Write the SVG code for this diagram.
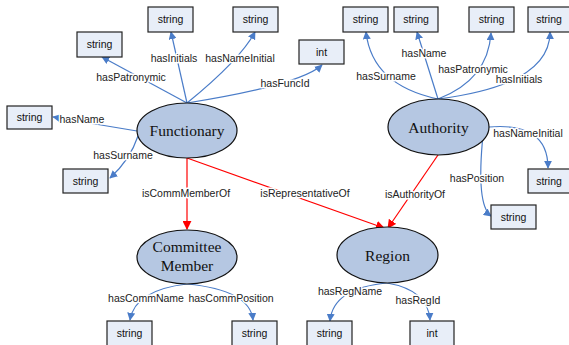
<svg xmlns="http://www.w3.org/2000/svg" width="569" height="345" viewBox="0 0 569 345">
<defs>
<style>
.box{fill:#E8EEF8;stroke:#222;stroke-width:1.2}
.bt{font-family:"Liberation Sans",Arial,sans-serif;font-size:10.5px;fill:#111;text-anchor:middle}
.ell{fill:#B5C7E2;stroke:#111;stroke-width:1.2}
.et{font-family:"Liberation Serif","Times New Roman",serif;font-size:15.5px;fill:#111;text-anchor:middle}
.lb{font-family:"Liberation Sans",Arial,sans-serif;font-size:10.5px;fill:#222;text-anchor:middle;stroke:#fff;stroke-width:3;paint-order:stroke;stroke-linejoin:round}
.b{fill:none;stroke:#4A7CC8;stroke-width:1.2;marker-end:url(#ab)}
.r{fill:none;stroke:#FF0000;stroke-width:1.2;marker-end:url(#ar)}
</style>
<marker id="ab" viewBox="0 0 10 10" refX="9" refY="5" markerWidth="8" markerHeight="8" markerUnits="userSpaceOnUse" orient="auto"><path d="M0,0 L10,5 L0,10 z" fill="#4A7CC8"/></marker>
<marker id="ar" viewBox="0 0 10 10" refX="9" refY="5" markerWidth="9" markerHeight="9" markerUnits="userSpaceOnUse" orient="auto"><path d="M0,0 L10,5 L0,10 z" fill="#FF0000"/></marker>
</defs>
<rect width="569" height="345" fill="#fff"/>
<g id="connectors">
<path class="b" d="M187,103 L102,57"/>
<path class="b" d="M187,103 L171,32"/>
<path class="b" d="M187,103 Q240,60 255,32"/>
<path class="b" d="M187,103 Q300,85 322,65"/>
<path class="b" d="M137,131 L53,117"/>
<path class="b" d="M138,136 Q130,160 110,178"/>
<path class="r" d="M187,158 L187,229"/>
<path class="r" d="M187,158 L384,228"/>
<path class="b" d="M438,99 Q372,85 366,32"/>
<path class="b" d="M438,99 L417,32"/>
<path class="b" d="M438,99 Q488,80 491,33"/>
<path class="b" d="M438,99 Q550,85 550,32"/>
<path class="b" d="M489,127 Q548,122 548,168"/>
<path class="b" d="M483,135 Q476,205 491,216"/>
<path class="r" d="M438,155 L388,228"/>
<path class="b" d="M187,284 Q135,290 130,320"/>
<path class="b" d="M187,284 Q250,290 253,320"/>
<path class="b" d="M387,283 Q333,288 330,321"/>
<path class="b" d="M387,283 Q428,290 430,320"/>
</g>
<g id="labels">
<text class="lb" x="131" y="81">hasPatronymic</text>
<text class="lb" x="174" y="62">hasInitials</text>
<text class="lb" x="240" y="62">hasNameInitial</text>
<text class="lb" x="285" y="87">hasFuncId</text>
<text class="lb" x="82" y="123">hasName</text>
<text class="lb" x="123" y="159">hasSurname</text>
<text class="lb" x="186" y="197">isCommMemberOf</text>
<text class="lb" x="305" y="197">isRepresentativeOf</text>
<text class="lb" x="386" y="80">hasSurname</text>
<text class="lb" x="424" y="57">hasName</text>
<text class="lb" x="473" y="73">hasPatronymic</text>
<text class="lb" x="519" y="83">hasInitials</text>
<text class="lb" x="528" y="137">hasNameInitial</text>
<text class="lb" x="477" y="182">hasPosition</text>
<text class="lb" x="415" y="198">isAuthorityOf</text>
<text class="lb" x="146" y="302">hasCommName</text>
<text class="lb" x="231" y="302">hasCommPosition</text>
<text class="lb" x="350" y="295">hasRegName</text>
<text class="lb" x="418" y="304">hasRegId</text>
</g>
<g id="functionary"><ellipse class="ell" cx="187" cy="130.5" rx="50" ry="27.5"/><text class="et" x="187" y="136">Functionary</text></g>
<g id="authority"><ellipse class="ell" cx="438.5" cy="127" rx="50.5" ry="28"/><text class="et" x="438.5" y="132.5">Authority</text></g>
<g id="committee-member"><ellipse class="ell" cx="187" cy="257" rx="50" ry="27"/><text class="et" x="187" y="252">Committee</text><text class="et" x="187" y="271">Member</text></g>
<g id="region"><ellipse class="ell" cx="387.5" cy="255" rx="50.5" ry="28"/><text class="et" x="387.5" y="260.5">Region</text></g>
<g id="f-initials"><rect class="box" x="148" y="7" width="45" height="25"/><text class="bt" x="170.5" y="23">string</text></g>
<g id="f-nameinitial"><rect class="box" x="233" y="7" width="45" height="25"/><text class="bt" x="255.5" y="23">string</text></g>
<g id="f-patronymic"><rect class="box" x="77" y="32" width="45" height="25"/><text class="bt" x="99.5" y="48">string</text></g>
<g id="f-funcid"><rect class="box" x="299" y="40" width="45" height="24"/><text class="bt" x="321.5" y="56">int</text></g>
<g id="f-name"><rect class="box" x="7" y="106" width="45" height="23"/><text class="bt" x="29.5" y="121">string</text></g>
<g id="f-surname"><rect class="box" x="63" y="169" width="45" height="24"/><text class="bt" x="85.5" y="185">string</text></g>
<g id="a-surname"><rect class="box" x="343" y="7" width="45" height="25"/><text class="bt" x="365.5" y="23">string</text></g>
<g id="a-name"><rect class="box" x="394" y="7" width="44" height="25"/><text class="bt" x="416" y="23">string</text></g>
<g id="a-patronymic"><rect class="box" x="469" y="7" width="45" height="25"/><text class="bt" x="491.5" y="23">string</text></g>
<g id="a-initials"><rect class="box" x="528" y="7" width="45" height="25"/><text class="bt" x="549" y="23">string</text></g>
<g id="a-nameinitial"><rect class="box" x="528" y="169" width="45" height="24"/><text class="bt" x="549" y="185">string</text></g>
<g id="a-position"><rect class="box" x="491" y="205" width="45" height="24"/><text class="bt" x="513.5" y="221">string</text></g>
<g id="c-name"><rect class="box" x="107" y="321" width="45" height="25"/><text class="bt" x="129.5" y="337">string</text></g>
<g id="c-position"><rect class="box" x="232" y="321" width="45" height="25"/><text class="bt" x="254.5" y="337">string</text></g>
<g id="r-name"><rect class="box" x="307" y="321" width="45" height="25"/><text class="bt" x="329.5" y="337">string</text></g>
<g id="r-id"><rect class="box" x="410" y="321" width="44" height="25"/><text class="bt" x="432" y="337">int</text></g>
</svg>
